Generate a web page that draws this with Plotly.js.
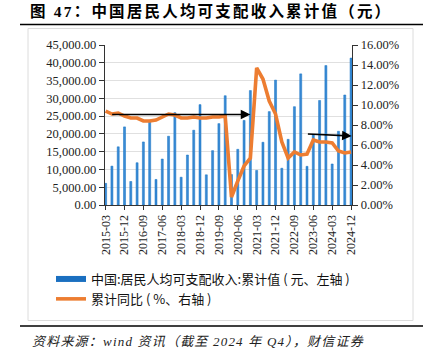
<!DOCTYPE html>
<html>
<head>
<meta charset="utf-8">
<script src="https://cdn.plot.ly/plotly-3.0.1.min.js"></script>
<style>
html,body{margin:0;padding:0;background:#fff;}
#chart{width:423px;height:355px;}
</style>
</head>
<body>
<div id="chart"></div>
<script>
// ---- data ----
var quarters = [
  "2015-03","2015-06","2015-09","2015-12",
  "2016-03","2016-06","2016-09","2016-12",
  "2017-03","2017-06","2017-09","2017-12",
  "2018-03","2018-06","2018-09","2018-12",
  "2019-03","2019-06","2019-09","2019-12",
  "2020-03","2020-06","2020-09","2020-12",
  "2021-03","2021-06","2021-09","2021-12",
  "2022-03","2022-06","2022-09","2022-12",
  "2023-03","2023-06","2023-09","2023-12",
  "2024-03","2024-06","2024-09","2024-12"
];
var incomeCum = [
  6085,10931,16367,21966,
  6619,11886,17735,23821,
  7184,12932,19342,25974,
  7815,14063,21035,28228,
  8493,15294,22882,30733,
  8561,15666,23781,32189,
  9730,17642,26265,35128,
  10345,18463,27650,36883,
  10870,19672,29398,39218,
  11539,20733,30941,41314
];
var growthCum = [
  9.4,9.1,9.2,8.9,
  8.7,8.7,8.4,8.4,
  8.5,8.8,9.1,9.0,
  8.7,8.7,8.8,8.7,
  8.7,8.8,8.8,8.9,
  0.8,2.4,3.9,4.7,
  13.7,12.6,10.4,9.1,
  6.3,4.7,5.3,5.0,
  5.1,6.5,6.3,6.3,
  6.2,5.4,5.2,5.3
];
var tickLabels = ["2015-03","2015-12","2016-09","2017-06","2018-03","2018-12","2019-09",
  "2020-06","2021-03","2021-12","2022-09","2023-06","2024-03","2024-12"];
var barName = "中国:居民人均可支配收入:累计值 ( 元、左轴 )";
var lineName = "累计同比 ( %、右轴 )";
var titleText = "图 47：中国居民人均可支配收入累计值（元）";
var sourceText = "资料来源：wind 资讯（截至 2024 年 Q4），财信证券";

// ---- chart ----
var W = 423, H = 355, mL = 105, mR = 71, mT = 45, mB = 150;
var pw = W - mL - mR, ph = H - mT - mB;
function px(xp){ return (xp - mL) / pw; }
function py(yp){ return (H - mB - yp) / ph; }

var serif = "Liberation Serif, Times New Roman, serif";
var sans = "Noto Sans CJK SC, Noto Sans, sans-serif";

var traces = [
  {
    type: "bar", x: quarters, y: incomeCum, name: barName, showlegend: false,
    width: 0.32, marker: {color: "#3a8ad4", line: {color: "#1272c4", width: 0.5}},
    legendgroup: "bar", hoverinfo: "x+y"
  },
  {
    type: "scatter", mode: "lines", x: [null], y: [null], name: barName,
    legendgroup: "bar", line: {color: "#1a6fc0", width: 6}, hoverinfo: "skip"
  },
  {
    type: "scatter", mode: "lines", x: quarters, y: growthCum, yaxis: "y2",
    name: lineName, line: {color: "#ed7d31", width: 3.6}
  }
];

var layout = {
  width: W, height: H,
  margin: {l: mL, r: mR, t: mT, b: mB, pad: 0},
  paper_bgcolor: "#fff", plot_bgcolor: "#fff",
  showlegend: true,
  title: {
    text: "<b>" + titleText + "</b>",
    x: 30 / W, xanchor: "left", xref: "container",
    y: 1 - 12 / H, yanchor: "middle", yref: "container",
    font: {family: serif + ", Noto Sans CJK SC", size: 15.5, color: "#000"}
  },
  xaxis: {
    type: "category", range: [-0.1, 39.15],
    tickmode: "array", tickvals: tickLabels, ticktext: tickLabels,
    tickangle: -90, ticks: "outside", ticklen: 4, tickcolor: "#333",
    showline: true, linecolor: "#333", linewidth: 1.2,
    showgrid: false, zeroline: false,
    tickfont: {family: serif, size: 12, color: "#222"}
  },
  yaxis: {
    range: [0, 45000], dtick: 5000, tickformat: ",.2f",
    ticks: "outside", ticklen: 5, tickcolor: "#333",
    showline: true, linecolor: "#333", linewidth: 1.2,
    gridcolor: "#e0e0e0", gridwidth: 1, zeroline: false,
    tickfont: {family: serif, size: 12.5, color: "#222"}
  },
  yaxis2: {
    overlaying: "y", side: "right", range: [0, 16], dtick: 2,
    tickformat: ".2f", ticksuffix: "%",
    ticks: "outside", ticklen: 5, tickcolor: "#333",
    showline: true, linecolor: "#333", linewidth: 1.2,
    showgrid: false, zeroline: false,
    tickfont: {family: serif, size: 12.5, color: "#222"}
  },
  legend: {
    orientation: "v", x: px(51), xanchor: "left", y: py(264), yanchor: "top",
    bgcolor: "rgba(0,0,0,0)", font: {family: sans, size: 13, color: "#111"},
    traceorder: "normal"
  },
  annotations: [
    {
      x: 23.0, y: 9.05, xref: "x", yref: "y2",
      ax: 0.8, ay: 9.05, axref: "x", ayref: "y2",
      text: "", showarrow: true, arrowhead: 2, arrowsize: 1.2, arrowwidth: 1.6,
      arrowcolor: "#000", standoff: 0
    },
    {
      x: 39.1, y: 6.9, xref: "x", yref: "y2",
      ax: 31.9, ay: 7.1, axref: "x", ayref: "y2",
      text: "", showarrow: true, arrowhead: 2, arrowsize: 1.2, arrowwidth: 1.6,
      arrowcolor: "#000", standoff: 0
    },
    {
      text: "<i>" + sourceText + "</i>", xref: "paper", yref: "paper",
      x: px(30), y: py(341), xanchor: "left", yanchor: "middle", showarrow: false,
      font: {family: serif + ", Noto Sans CJK SC", size: 13, color: "#222"}
    }
  ],
  shapes: [
    {type: "line", xref: "paper", yref: "paper", x0: px(20), x1: px(423), y0: py(24.5), y1: py(24.5),
     line: {color: "#000", width: 1.5}},
    {type: "line", xref: "paper", yref: "paper", x0: px(20), x1: px(423), y0: py(326), y1: py(326),
     line: {color: "#000", width: 1.5}},
    {type: "rect", xref: "paper", yref: "paper", x0: px(28), x1: px(413), y0: py(320.5), y1: py(28.5),
     line: {color: "#dcdcdc", width: 1}, fillcolor: "rgba(0,0,0,0)", layer: "below"}
  ]
};

Plotly.newPlot("chart", traces, layout, {displayModeBar: false, staticPlot: true}).then(function(gd){
  var t = gd.querySelector(".gtitle");
  if (t) t.style.letterSpacing = "2.2px";
  var anns = gd.querySelectorAll(".annotation-text");
  anns.forEach(function(a){
    if (a.textContent.indexOf("资料来源") === 0) {
      var before = a.getBBox();
      a.style.letterSpacing = "1.2px";
      var after = a.getBBox();
      var dx = before.x - after.x;
      var cur = a.getAttribute("transform") || "";
      a.setAttribute("transform", cur + " translate(" + dx + ",0)");
    }
  });
});
</script>
</body>
</html>
